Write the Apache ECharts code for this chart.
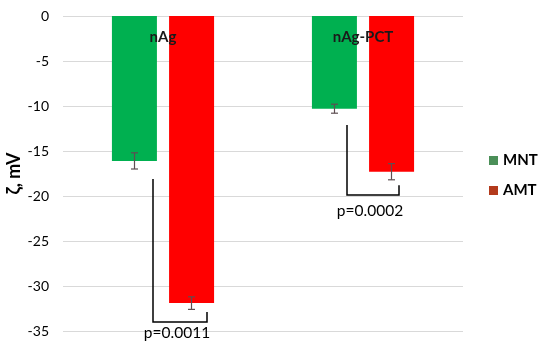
<!DOCTYPE html>
<html lang="en">
<head>
  <meta charset="UTF-8">
  <title>Zeta potential</title>
  <script src="https://cdn.jsdelivr.net/npm/echarts@6/dist/echarts.min.js"></script>
  <style>
    html, body { margin: 0; padding: 0; background: #fff; }
    #chart { width: 550px; height: 355px; }
  </style>
</head>
<body>
<div id="chart"></div>
<script>
  // data
  const categories = ['nAg', 'nAg-PCT'];
  const mntValues = [-16.1, -10.3];
  const amtValues = [-31.9, -17.3];
  const mntErrors = [0.9, 0.5];
  const amtErrors = [0.7, 0.9];
  const yTicks = [0, -5, -10, -15, -20, -25, -30, -35];
  // brackets: [category, left top, right top, bottom, label value]
  const brackets = [
    [0, -18.1, -32.9, -34.0, -35.2],
    [1, -12.1, -18.8, -19.9, -21.7]
  ];
  const pLabels = ['p=0.0011', 'p=0.0002'];
  const groupLabelY = -2.4;

  const barW = 45;
  const half = 28.5;

  let chart = echarts.init(document.getElementById('chart'));

  function errorSeries(name, values, errors, dx) {
    return {
      type: 'custom',
      name: name + '-err',
      silent: true,
      z: 5,
      data: values.map((v, i) => [i, v - errors[i], v + errors[i]]),
      renderItem: function (params, api) {
        const lo = api.coord([api.value(0), api.value(1)]);
        const hi = api.coord([api.value(0), api.value(2)]);
        const x = lo[0] + dx;
        const style = {stroke: '#5e4e52', lineWidth: 1.2};
        return {
          type: 'group',
          children: [
            {type: 'line', shape: {x1: x, y1: lo[1], x2: x, y2: hi[1]}, style: style},
            {type: 'line', shape: {x1: x - 3.5, y1: lo[1], x2: x + 3.5, y2: lo[1]}, style: style},
            {type: 'line', shape: {x1: x - 3.5, y1: hi[1], x2: x + 3.5, y2: hi[1]}, style: style}
          ]
        };
      }
    };
  }

  const leftOff = [-10, -16];
  const rightOff = [44, 36];

  let option = {
    animation: false,
    grid: {left: 63, right: 87, top: 16, bottom: 24, outerBoundsMode: 'none'},
    legend: {
      orient: 'vertical',
      left: 484,
      top: 148,
      itemGap: 15,
      itemWidth: 9,
      itemHeight: 9,
      icon: 'rect',
      textStyle: {fontFamily: 'Lato', fontWeight: 'bold', fontSize: 15, color: '#000'},
      data: [
        {name: 'MNT', itemStyle: {color: '#4b8f58'}},
        {name: 'AMT', itemStyle: {color: '#b33a1c'}}
      ]
    },
    xAxis: {
      type: 'category',
      data: categories,
      axisLine: {show: false},
      axisTick: {show: false},
      axisLabel: {show: false}
    },
    yAxis: {
      type: 'value',
      min: -35,
      max: 0,
      interval: 5,
      name: 'ζ, mV',
      nameLocation: 'middle',
      nameRotate: 90,
      nameGap: 40,
      nameMoveOverlap: false,
      nameTextStyle: {fontFamily: 'Lato', fontWeight: 'bold', fontSize: 18, color: '#000'},
      axisLine: {show: false},
      axisTick: {show: false},
      axisLabel: {
        fontFamily: 'Lato', fontSize: 14, color: '#000', margin: 14,
        formatter: function (v) { return yTicks.indexOf(v) >= 0 ? String(v) : ''; }
      },
      splitLine: {lineStyle: {color: '#d9d9d9', width: 1}}
    },
    series: [
      {
        name: 'MNT', type: 'bar', data: mntValues, barWidth: barW, barGap: '27%',
        itemStyle: {color: '#00b050'}
      },
      {
        name: 'AMT', type: 'bar', data: amtValues, barWidth: barW,
        itemStyle: {color: '#ff0000'}
      },
      errorSeries('MNT', mntValues, mntErrors, -half),
      errorSeries('AMT', amtValues, amtErrors, half),
      {
        type: 'custom',
        name: 'brackets',
        silent: true,
        z: 6,
        data: brackets,
        renderItem: function (params, api) {
          const i = params.dataIndex;
          const c = api.value(0);
          const lt = api.coord([c, api.value(1)]);
          const rt = api.coord([c, api.value(2)]);
          const bt = api.coord([c, api.value(3)]);
          const lb = api.coord([c, api.value(4)]);
          const xl = lt[0] + leftOff[i];
          const xr = lt[0] + rightOff[i];
          return {
            type: 'group',
            children: [
              {
                type: 'polyline',
                shape: {points: [[xl, lt[1]], [xl, bt[1]], [xr, bt[1]], [xr, rt[1]]]},
                style: {stroke: '#000', lineWidth: 1.5, fill: null}
              },
              {
                type: 'text',
                x: (xl + xr) / 2 - 3,
                y: lb[1],
                style: {
                  text: pLabels[i], fontFamily: 'Lato', fontSize: 15.5, fill: '#000',
                  align: 'center', verticalAlign: 'middle'
                }
              }
            ]
          };
        }
      },
      {
        type: 'custom',
        name: 'groupLabels',
        silent: true,
        z: 7,
        data: categories.map((c, i) => [i, groupLabelY]),
        renderItem: function (params, api) {
          const p = api.coord([api.value(0), api.value(1)]);
          return {
            type: 'text',
            x: p[0],
            y: p[1],
            style: {
              text: categories[params.dataIndex], fontFamily: 'Lato', fontWeight: 'bold',
              fontSize: 15, fill: '#1a1a1a', align: 'center', verticalAlign: 'middle'
            }
          };
        }
      }
    ]
  };
  chart.setOption(option);
</script>
</body>
</html>
